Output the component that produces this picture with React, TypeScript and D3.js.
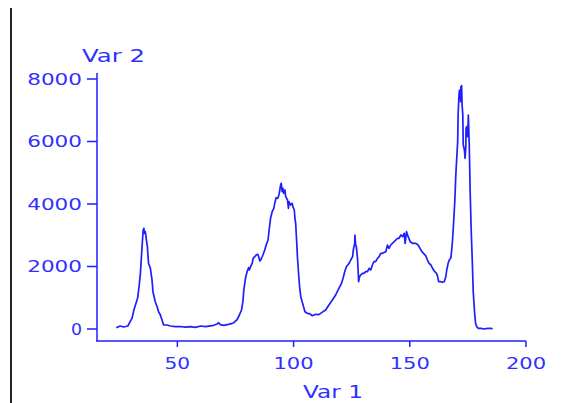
import * as d3 from "d3";
import React, { useEffect, useRef } from "react";

// histogram trace
const var1 = [
  23.7, 25.4, 26.9, 28.7, 29.7, 30.5, 31.3, 32.2, 32.9, 33.6, 34.1, 34.5, 35.0, 35.3, 35.6, 35.9, 36.2, 36.6,
  37.1, 37.6, 38.4, 39.1, 39.5, 40.5, 41.3, 41.9, 42.7, 43.4, 44.1, 45.6, 47.0, 49.1, 51.3, 53.4, 55.6, 57.8,
  60.0, 62.1, 65.6, 67.1, 67.8, 68.5, 70.0, 72.0, 73.6, 74.3, 75.7, 76.7, 77.6, 78.2, 78.6, 79.3, 80.0, 80.7,
  81.0, 81.5, 82.2, 82.6, 83.3, 83.9, 84.6, 85.0, 85.5, 86.1, 86.8, 87.6, 88.2, 89.0, 89.5, 90.1, 90.8, 91.5,
  91.9, 92.5, 93.2, 93.7, 94.1, 94.4, 94.7, 95.1, 95.4, 95.8, 96.3, 96.6, 97.4, 97.8, 98.0, 98.7, 99.4, 99.7,
  100.3, 100.6, 100.9, 101.3, 101.7, 102.2, 102.6, 103.1, 103.7, 104.3, 104.9, 105.9, 106.9, 108.1, 109.5,
  110.9, 112.4, 113.8, 115.2, 116.7, 118.1, 119.5, 120.6, 121.3, 122.0, 122.7, 123.9, 124.6, 125.4, 125.7,
  126.0, 126.3, 126.4, 126.7, 127.0, 127.5, 127.7, 128.0, 128.4, 128.9, 129.6, 130.3, 131.0, 131.8, 132.5,
  133.2, 133.9, 134.6, 135.3, 136.1, 136.8, 137.5, 138.2, 139.7, 140.4, 141.1, 141.8, 143.3, 144.0, 144.7,
  145.4, 146.1, 146.9, 147.6, 148.0, 148.6, 149.3, 150.2, 151.2, 152.6, 153.6, 154.4, 155.2, 155.9, 156.9,
  157.6, 158.3, 159.1, 159.8, 160.5, 161.5, 162.0, 162.4, 163.4, 164.1, 164.8, 165.5, 165.9, 166.5, 167.0,
  167.7, 168.1, 168.4, 168.8, 169.4, 169.8, 170.3, 170.6, 170.8, 171.1, 171.3, 171.6, 171.9, 172.0, 172.3,
  172.5, 172.8, 173.0, 173.5, 173.8, 174.1, 174.2, 174.5, 174.9, 175.2, 175.6, 176.0, 176.4, 176.9, 177.3,
  177.9, 178.3, 178.8, 179.5, 180.6, 182.0, 183.5, 184.9, 185.6,
];
const var2 = [
  40, 96, 64, 96, 234, 342, 608, 822, 982, 1408, 1782, 2262, 2848, 3168, 3222, 3062, 3114, 2902,
  2634, 2102, 1942, 1568, 1194, 874, 714, 554, 448, 288, 128, 128, 96, 74, 80, 60, 74, 54,
  96, 74, 118, 160, 202, 138, 118, 150, 182, 202, 300, 448, 608, 874, 1248, 1622, 1834, 1962,
  1888, 1994, 2102, 2262, 2314, 2368, 2390, 2314, 2176, 2240, 2368, 2528, 2688, 2848, 3168, 3542, 3754, 3862,
  4022, 4202, 4182, 4288, 4448, 4608, 4662, 4394, 4502, 4342, 4448, 4234, 4128, 3862, 4074, 3968, 4022, 3914,
  3808, 3542, 3382, 2848, 2262, 1728, 1354, 1034, 874, 714, 554, 502, 490, 426, 470,
  460, 540, 608, 768, 928, 1088, 1302, 1462, 1622, 1834, 1994, 2102, 2208, 2314, 2528,
  2634, 2742, 3008, 2688, 2634, 2262, 1994, 1514, 1674, 1728, 1782, 1782, 1834, 1834, 1942,
  1888, 2048, 2154, 2154, 2262, 2314, 2422, 2422, 2474, 2688, 2582, 2688, 2794, 2848, 2902,
  2902, 3008, 2954, 3062, 2742, 3114, 2954, 2794, 2742, 2742, 2688, 2582, 2474, 2422, 2340,
  2208, 2102, 2048, 1942, 1856, 1782, 1674, 1514, 1514, 1494, 1514, 1674, 1888, 2102, 2208,
  2282, 2582, 2848, 3328, 4128, 4928, 5590, 5984, 6870, 7382, 7616, 7648, 7274, 7754, 7786,
  7168, 6870, 5888, 5728, 5462, 5834, 6422, 6474, 6154, 6848, 5834, 4342, 3222, 2154, 1194,
  502, 182, 74, 22, 22, 0, 22, 22, 0,
];
const xTicks = [50, 100, 150, 200];
const yTicks = [0, 2000, 4000, 6000, 8000];
const xTitle = "Var 1";
const yTitle = "Var 2";

const BLUE = "#1e1eff";
const TEXT_BLUE = "#3030ff";
const FONT = "DejaVu Sans, Verdana, sans-serif";

// the old labels are drawn wide: ~11px per glyph plus ~4px gap
const wideLen = (s) => s.length * 11 + (s.length - 1) * 3.6;

const App = () => {
  const svgRef = useRef(null);

  useEffect(() => {
    const svg = d3.select(svgRef.current);
    svg.selectAll("*").remove();

    const x = d3.scaleLinear().domain([15, 200]).range([96, 526]);
    const y = d3.scaleLinear().domain([0, 8000]).range([329, 79]);

    // frame line on the left edge
    svg.append("line")
      .attr("x1", 11).attr("x2", 11).attr("y1", 8).attr("y2", 403)
      .attr("stroke", "#222").attr("stroke-width", 2);

    // y axis
    svg.append("line")
      .attr("x1", 97).attr("x2", 97).attr("y1", 73).attr("y2", 341)
      .attr("stroke", BLUE).attr("stroke-width", 1.5);
    const yt = svg.append("g").selectAll("g").data(yTicks).enter().append("g");
    yt.append("line")
      .attr("x1", 87).attr("x2", 97)
      .attr("y1", (d) => y(d)).attr("y2", (d) => y(d))
      .attr("stroke", BLUE).attr("stroke-width", 1.5);
    yt.append("text")
      .attr("x", 82)
      .attr("y", (d) => y(d) + 5.5)
      .attr("text-anchor", "end")
      .attr("textLength", (d) => wideLen(String(d)))
      .attr("lengthAdjust", "spacingAndGlyphs")
      .attr("font-family", FONT).attr("font-size", 15)
      .attr("fill", TEXT_BLUE)
      .text((d) => d);

    // x axis
    svg.append("line")
      .attr("x1", 96).attr("x2", x(200)).attr("y1", 341).attr("y2", 341)
      .attr("stroke", BLUE).attr("stroke-width", 1.5);
    const xt = svg.append("g").selectAll("g").data(xTicks).enter().append("g");
    xt.append("line")
      .attr("x1", (d) => x(d)).attr("x2", (d) => x(d))
      .attr("y1", 341).attr("y2", 347)
      .attr("stroke", BLUE).attr("stroke-width", 1.5);
    xt.append("text")
      .attr("x", (d) => x(d))
      .attr("y", 368.5)
      .attr("text-anchor", "middle")
      .attr("textLength", (d) => wideLen(String(d)))
      .attr("lengthAdjust", "spacingAndGlyphs")
      .attr("font-family", FONT).attr("font-size", 15)
      .attr("fill", TEXT_BLUE)
      .text((d) => d);

    // axis titles
    svg.append("text")
      .attr("x", 333).attr("y", 397.5)
      .attr("text-anchor", "middle")
      .attr("textLength", 60).attr("lengthAdjust", "spacingAndGlyphs")
      .attr("font-family", FONT).attr("font-size", 17)
      .attr("fill", TEXT_BLUE)
      .text(xTitle);
    svg.append("text")
      .attr("x", 82).attr("y", 61.5)
      .attr("textLength", 63).attr("lengthAdjust", "spacingAndGlyphs")
      .attr("font-family", FONT).attr("font-size", 17)
      .attr("fill", TEXT_BLUE)
      .text(yTitle);

    // trace
    const line = d3.line()
      .x((d) => x(d[0]))
      .y((d) => y(d[1]));
    svg.append("path")
      .datum(var1.map((v, i) => [v, var2[i]]))
      .attr("d", line)
      .attr("fill", "none")
      .attr("stroke", BLUE)
      .attr("stroke-width", 1.7)
      .attr("stroke-linejoin", "round");
  }, []);

  return (
    <svg
      ref={svgRef}
      width="584"
      height="403"
      style={{ position: "absolute", left: 0, top: 0, background: "#fff" }}
    ></svg>
  );
};

export default App;
